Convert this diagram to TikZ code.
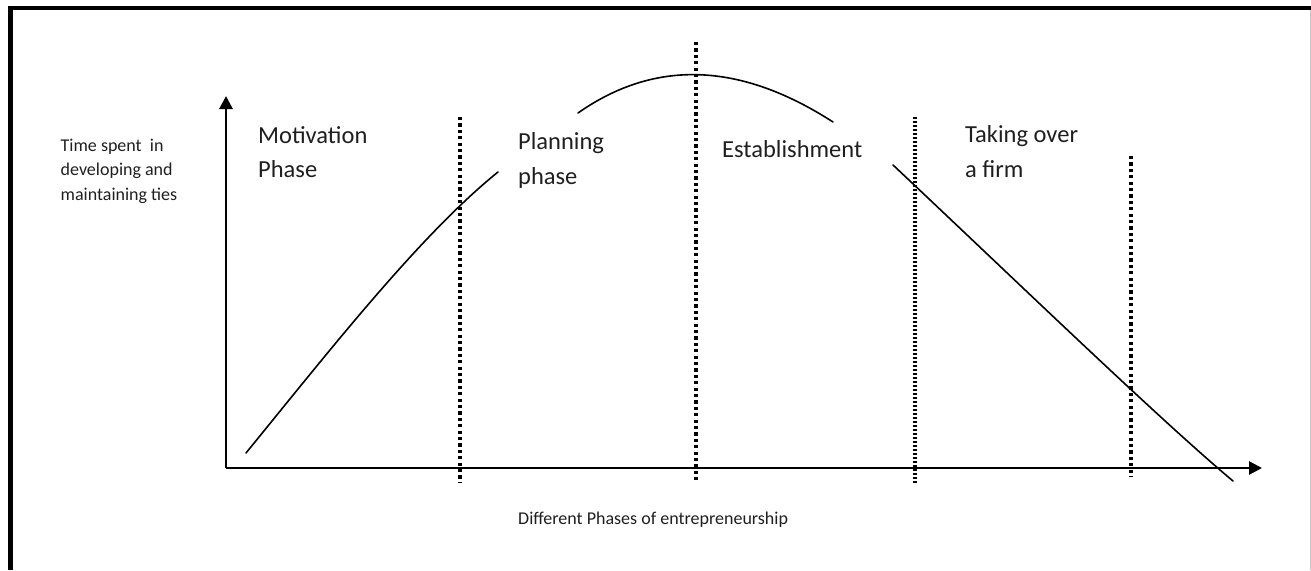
\documentclass[tikz,border=0pt]{standalone}
\usepackage{fontspec}
\setmainfont{Carlito}
\usetikzlibrary{arrows.meta}
\begin{document}
\begin{tikzpicture}[x=1pt,y=-1pt,
  axis/.style={line width=2.8pt,-{Triangle[length=13pt,width=13pt]}},
  curve/.style={line width=1.6pt,line cap=round},
  phaseline/.style={line width=3.2pt,dash pattern=on 3.2pt off 3.2pt,black},
  densephase/.style={line width=3.2pt,dash pattern=on 2.4pt off 1.6pt,black},
  small/.style={font=\fontsize{18pt}{24pt}\selectfont,inner sep=0pt,anchor=base west,text=black!88},
  big/.style={font=\fontsize{24.5pt}{34pt}\selectfont,inner sep=0pt,anchor=base west,text=black!88}]
\useasboundingbox (0,0) rectangle (1311,570);
% frame
\draw[line width=4.5pt,line join=miter] (10.5,570) -- (10.5,8) -- (1311,8);
\draw[line width=1pt,black!22] (1310.5,10) -- (1310.5,570);
% axes
\coordinate (O) at (226,468);
\coordinate (ytip) at (226,96);
\coordinate (xtip) at (1262,468);
\draw[axis] (O) -- (ytip);
\draw[axis] (O) -- (xtip);
% phase separators
\coordinate (p1t) at (460,117); \coordinate (p1b) at (460,483);
\coordinate (p2t) at (696,42);  \coordinate (p2b) at (696,480);
\coordinate (p3t) at (915,117); \coordinate (p3b) at (915,483);
\coordinate (p4t) at (1131,156); \coordinate (p4b) at (1131,477);
\draw[phaseline] (p1t) -- (p1b);
\draw[phaseline] (p2t) -- (p2b);
\draw[densephase] (p3t) -- (p3b);
\draw[phaseline] (p4t) -- (p4b);
% curve pieces
\draw[curve] (246,453) .. controls (330,350) and (420,235) .. (498,172);
\draw[curve] (578,113) .. controls (655,59) and (740,62) .. (833,122);
\draw[curve] (893,165) .. controls (1010,275) and (1160,420) .. (1233,481);
% labels
\node[small] (ylab1) at (60.5,151) {Time spent\ \ in};
\node[small] (ylab2) at (60.5,175.5) {developing and};
\node[small] (ylab3) at (60.5,200) {maintaining ties};
\node[small] (xlab) at (518,524) {Different Phases of entrepreneurship};
\node[big] (mot1) at (258,143) {Motivation};
\node[big] (mot2) at (258,177) {Phase};
\node[big] (plan1) at (518,149) {Planning};
\node[big] (plan2) at (518,184) {phase};
\node[big] (est) at (722,157) {Establishment};
\node[big] (take1) at (965,142) {Taking over};
\node[big] (take2) at (965,177) {a firm};
\end{tikzpicture}
\end{document}
